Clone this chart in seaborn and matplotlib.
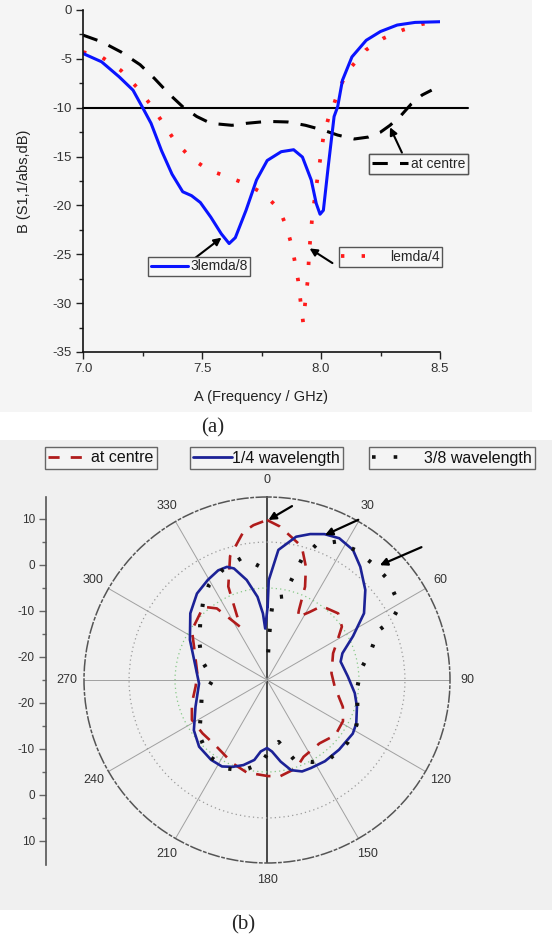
import numpy as np
import pandas as pd
import matplotlib
matplotlib.use("Agg")
import matplotlib.pyplot as plt
import seaborn as sns
from matplotlib.lines import Line2D
from matplotlib.patches import Rectangle
from matplotlib.ticker import MultipleLocator, FormatStrFormatter, FixedLocator

sns.set_style("white")
plt.rcParams["font.family"] = ["Liberation Sans", "DejaVu Sans"]

# ---------------- data: panel (a) return loss ----------------
freq_38 = [7.0, 7.078, 7.152, 7.21, 7.249, 7.286, 7.33, 7.374, 7.419, 7.456, 7.493, 7.537, 7.581,
           7.614, 7.64, 7.685, 7.729, 7.774, 7.833, 7.885, 7.922, 7.959, 7.98, 7.996, 8.01, 8.03,
           8.055, 8.07, 8.09, 8.13, 8.19, 8.25, 8.32, 8.395, 8.5]
s11_38 = [-4.45, -5.3, -6.84, -8.2, -9.92, -11.6, -14.4, -16.8, -18.6, -19.0, -19.7, -21.2, -22.9,
          -23.9, -23.3, -20.5, -17.4, -15.4, -14.5, -14.3, -15.05, -17.4, -19.8, -20.9, -20.5, -16.1,
          -10.9, -9.9, -7.2, -4.8, -3.1, -2.2, -1.54, -1.27, -1.2]
freq_l4 = [7.0, 7.078, 7.16, 7.226, 7.286, 7.337, 7.389, 7.456, 7.53, 7.611, 7.685, 7.759, 7.825,
           7.855, 7.877, 7.892, 7.904, 7.914, 7.925, 7.933, 7.944, 7.951, 7.963, 7.98, 7.996, 8.01,
           8.033, 8.055, 8.077, 8.114, 8.188, 8.262, 8.343, 8.425, 8.49]
s11_l4 = [-4.3, -4.8, -6.2, -7.9, -9.75, -11.6, -13.5, -15.2, -16.4, -17.1, -17.8, -18.8, -20.4,
          -22.2, -24.1, -26.0, -27.7, -29.8, -32.0, -30.1, -27.7, -24.6, -21.2, -18.1, -15.4, -13.0,
          -10.9, -9.6, -8.0, -6.2, -4.1, -2.9, -2.05, -1.44, -1.2]
freq_c = [7.0, 7.078, 7.16, 7.24, 7.3, 7.36, 7.419, 7.478, 7.537, 7.626, 7.685, 7.774, 7.86,
          7.935, 8.01, 8.07, 8.14, 8.2, 8.25, 8.29, 8.336, 8.38, 8.425, 8.465]
s11_c = [-2.57, -3.25, -4.3, -5.6, -7.0, -8.55, -9.9, -10.9, -11.6, -11.8, -11.6, -11.4, -11.46,
         -11.8, -12.3, -12.8, -13.2, -13.0, -12.5, -11.8, -10.8, -9.6, -8.7, -8.2]
threshold_db = -10
threshold_f = [7.0, 8.618]
xticks_a = [7.0, 7.5, 8.0, 8.5]
yticks_a = [0, -5, -10, -15, -20, -25, -30, -35]
names_a = ["3lemda/8", "lemda/4", "at centre"]

# ---------------- data: panel (b) radiation pattern ----------------
theta_q = [0.5, 1, 5, 11.5, 16.5, 21.5, 27, 33.5, 39.5, 47.5, 55.5, 63, 70.5, 76, 87.5, 98.5,
           106.5, 116, 122, 134, 144.5, 153.5, 159, 165, 170.5, 176, 180, 185, 189, 195.5, 201.5,
           207.5, 215, 225.5, 235.5, 249.5, 267, 280.5, 297.5, 311, 321, 329.5, 336, 340.5, 343.5,
           348.5, 353.5, 356.5, 358, 360.5]
r_q = [-9.0, -3.3, 3.4, 6.8, 8.1, 9.1, 9.6, 8.9, 6.9, 4.0, 0.6, -4.0, -7.6, -8.5, -7.4, -5.7,
       -4.6, -3.4, -3.0, -3.2, -3.3, -3.6, -3.7, -4.7, -7.0, -9.4, -10.2, -9.4, -7.4, -5.8, -4.7,
       -3.8, -3.8, -4.3, -5.7, -8.4, -10.2, -9.2, -6.1, -2.9, -0.8, 0.3, 1.1, 1.1, 0.3,
       -2.8, -6.8, -10.5, -13.8, -9.0]
theta_c = [0, 4.8, 14.6, 19, 22.2, 24.5, 26, 32.2, 36.5, 46.9, 54.5, 62.2, 68, 84, 95.6, 109.5,
           118.5, 128.8, 140.3, 154.5, 161.6, 172, 179.4, 192.3, 202.4, 218.7, 230.4, 242, 252.8,
           264.7, 275, 288, 303.6, 319, 325, 333.1, 334.5, 337.5, 343.4, 350.9, 355, 360]
r_c = [9.8, 8.5, 5.0, 1.0, -3.1, -8.2, -9.8, -7.5, -5.0, -3.8, -5.0, -7.9, -9.5, -10.9, -10.2, -7.5,
       -6.2, -5.9, -7.1, -6.5, -4.8, -3.9, -4.1, -4.4, -5.4, -6.9, -6.8, -6.5, -7.9,
       -9.4, -9.8, -8.6, -5.4, -3.9, -6.0, -12.0, -10.4, -3.0, 3.1, 7.6, 8.8, 9.8]
theta_38 = [2.5, 3, 3.5, 4.5, 11, 16, 20, 26.7, 34.4, 43, 50, 56.5, 62, 64.5, 66, 73.5, 83, 94.5,
            106.5, 116.6, 128, 141, 151, 161, 169.3, 177, 184, 195, 205, 218, 231, 241, 254, 271,
            286.5, 299.5, 310.5, 320, 328.5, 338, 348.8, 356.5, 359.8]
r_38 = [-19.0, -14.8, -11.0, -7.0, -6.5, 2.2, 6.3, 8.7, 9.2, 9.2, 9.2, 8.4, 7.0, 5.0, 1.6, -1.3,
        -4.3, -5.3, -4.5, -3.2, -2.8, -3.1, -4.6, -6.6, -11.3, -10.0, -6.8, -4.6, -3.8, -4.2, -6.0,
        -8.5, -10.2, -13.3, -10.2, -8.1, -5.9, -3.3, -0.8, 0.8, 2.2, -0.3, -3.0]
angle_ticks = [0, 30, 60, 90, 120, 150, 180, 210, 240, 270, 300, 330]
radial_ticks = [10, 0, -10, -20]
r_min, r_max = -25, 14.8
names_b = ["at centre", "1/4 wavelength", "3/8 wavelength"]

# ---------------- figure ----------------
W, H = 552, 942
fig = plt.figure(figsize=(W / 100, H / 100), dpi=100)
fig.patch.set_facecolor("white")


def box(x0, y0, x1, y1):
    return [x0 / W, 1 - y1 / H, (x1 - x0) / W, (y1 - y0) / H]


def fpt(px, py):
    return (px / W, 1 - py / H)


fig.add_artist(Rectangle((0, 1 - 412 / H), 532 / W, 412 / H, transform=fig.transFigure,
                         facecolor="#f5f5f5", edgecolor="none", zorder=-10))
fig.add_artist(Rectangle((0, 1 - 910 / H), 1, (910 - 440) / H, transform=fig.transFigure,
                         facecolor="#f0f0f0", edgecolor="none", zorder=-10))

# ---- panel (a)
ax = fig.add_axes(box(83, 10, 440, 352))
ax.set_facecolor("none")
dash_c = (0, (5, 4))
dot_l4 = (0, (0.9, 4.6))
sns.lineplot(x=freq_c, y=s11_c, ax=ax, color="black", lw=2.2, linestyle=dash_c,
             estimator=None, sort=False, legend=False)
sns.lineplot(x=freq_l4, y=s11_l4, ax=ax, color="#ff1a1a", lw=2.7, linestyle=dot_l4,
             estimator=None, sort=False, legend=False)
sns.lineplot(x=freq_38, y=s11_38, ax=ax, color="#0a14ff", lw=2.2,
             estimator=None, sort=False, legend=False)
ax.plot(threshold_f, [threshold_db] * 2, color="black", lw=1.5, clip_on=False, zorder=1)
ax.set_xlim(7.0, 8.5)
ax.set_ylim(-35, 0)
for s in ["top", "right"]:
    ax.spines[s].set_visible(False)
for s in ["left", "bottom"]:
    ax.spines[s].set_color("#111")
    ax.spines[s].set_linewidth(1.2)
ax.xaxis.set_major_locator(FixedLocator(xticks_a))
ax.yaxis.set_major_locator(FixedLocator(yticks_a))
ax.xaxis.set_major_formatter(FormatStrFormatter("%.1f"))
ax.yaxis.set_major_formatter(FormatStrFormatter("%d"))
ax.xaxis.set_minor_locator(MultipleLocator(0.25))
ax.yaxis.set_minor_locator(MultipleLocator(2.5))
ax.tick_params(which="major", direction="out", length=5, width=1, color="#222",
               labelsize=9.5, labelcolor="#333", bottom=True, left=True, pad=3)
ax.tick_params(which="minor", direction="out", length=3, width=1, color="#222",
               bottom=True, left=True)
ax.set_xlabel("A (Frequency / GHz)", fontsize=10.5, color="#222")
ax.set_ylabel("B (S1,1/abs,dB)", fontsize=10.5, color="#222")
ax.xaxis.set_label_coords(0.5, -0.112)
ax.yaxis.set_label_coords(-0.145, 0.5)

arrow_kw = dict(arrowstyle="-|>", color="black", lw=1.5, mutation_scale=11, shrinkA=0, shrinkB=0)
ax.annotate("", xy=(7.582, -23.3), xytext=(7.47, -25.4), arrowprops=arrow_kw)
ax.annotate("", xy=(7.952, -24.4), xytext=(8.048, -25.9), arrowprops=arrow_kw)
ax.annotate("", xy=(8.29, -12.0), xytext=(8.34, -14.6), arrowprops=arrow_kw)

leg_kw = dict(loc="center", frameon=True, fancybox=False, edgecolor="#555", facecolor="#f7f7f7",
              framealpha=1, fontsize=10, borderpad=0.2, borderaxespad=0)
h38 = Line2D([], [], color="#0a14ff", lw=2.2)
hl4 = Line2D([], [], color="#ff1a1a", lw=2.7, linestyle=dot_l4)
hc = Line2D([], [], color="black", lw=2.2, linestyle=dash_c)
l1 = ax.legend([h38], [names_a[0]], bbox_to_anchor=((199 - 83) / 357, (352 - 266.5) / 342),
               handlelength=2.7, handletextpad=0.15, **leg_kw)
ax.add_artist(l1)
l2 = ax.legend([hl4], [names_a[1]], bbox_to_anchor=((390.5 - 83) / 357, (352 - 257) / 342),
               handlelength=2.3, handletextpad=1.2, **leg_kw)
ax.add_artist(l2)
l3 = ax.legend([hc], [names_a[2]], bbox_to_anchor=((418.5 - 83) / 357, (352 - 164) / 342),
               handlelength=2.6, handletextpad=0.25, **leg_kw)
ax.add_artist(l3)

fig.text(*fpt(213, 428), "(a)", family=["Liberation Serif", "DejaVu Serif"], fontsize=15,
         ha="center", va="center")

# ---- panel (b)
pax = fig.add_axes(box(84, 497, 450, 863), projection="polar")
pax.set_facecolor("none")
pax.set_theta_zero_location("N")
pax.set_theta_direction(-1)
dash_b = (0, (5.5, 3.8))
dot_b = (0, (0.8, 4.3))
sns.lineplot(x=np.deg2rad(theta_c), y=r_c, ax=pax, color="#b01c1c", lw=1.9, linestyle=dash_b,
             estimator=None, sort=False, legend=False)
sns.lineplot(x=np.deg2rad(theta_q), y=r_q, ax=pax, color="#1c2296", lw=1.9,
             estimator=None, sort=False, legend=False)
sns.lineplot(x=np.deg2rad(theta_38), y=r_38, ax=pax, color="#111", lw=2.9, linestyle=dot_b,
             estimator=None, sort=False, legend=False)
pax.set_xlabel("")
pax.set_ylabel("")
pax.set_ylim(r_min, r_max)
pax.set_xticks(np.deg2rad(angle_ticks))
pax.set_xticklabels([str(a) for a in angle_ticks])
pax.set_yticks([-5, 5])
pax.set_yticklabels([])
pax.grid(True)
for i, g in enumerate(pax.xaxis.get_gridlines()):
    if angle_ticks[i] in (0, 180):
        g.set_color("#1a1a1a")
        g.set_linewidth(1.1)
    else:
        g.set_color("#a0a0a0")
        g.set_linewidth(0.7)
    g.set_linestyle("-")
ygl = pax.yaxis.get_gridlines()
ygl[0].set_color("#88c888")
ygl[1].set_color("#9a9a9a")
for g in ygl:
    g.set_linestyle((0, (1, 2.5)))
    g.set_linewidth(0.9)
pax.spines["polar"].set_linestyle((0, (7, 2, 1.5, 2)))
pax.spines["polar"].set_color("#555")
pax.spines["polar"].set_linewidth(1.1)
pax.tick_params(axis="x", pad=2, labelsize=9, labelcolor="#333")

parrow = dict(arrowstyle="-|>", color="black", lw=1.6, mutation_scale=11, shrinkA=0, shrinkB=0)
pax.annotate("", xy=(np.deg2rad(0.5), 9.8), xytext=(17, 10), textcoords="offset points",
             arrowprops=parrow)
pax.annotate("", xy=(np.deg2rad(21.8), 8.95), xytext=(24, 11), textcoords="offset points",
             arrowprops=parrow)
pax.annotate("", xy=(np.deg2rad(44.5), 10.0), xytext=(30, 13), textcoords="offset points",
             arrowprops=parrow)

# radial scale on the left
lax = fig.add_axes(box(46, 497, 47, 865))
lax.set_facecolor("none")
lax.set_ylim(-40.22, 39.78)
for s in ["top", "right", "bottom"]:
    lax.spines[s].set_visible(False)
lax.spines["left"].set_color("#555")
lax.spines["left"].set_linewidth(1.2)
lax.set_xticks([])
pos = [r - r_min for r in radial_ticks] + [-(r - r_min) for r in radial_ticks[::-1]]
labs = [str(r) for r in radial_ticks] + [str(r) for r in radial_ticks[::-1]]
lax.yaxis.set_major_locator(FixedLocator(pos))
lax.set_yticklabels(labs)
lax.yaxis.set_minor_locator(FixedLocator([30, 20, 10, 0, -10, -20, -30]))
lax.tick_params(axis="y", which="major", direction="out", length=5, width=1, color="#666",
                labelsize=8.5, labelcolor="#333", left=True, pad=3)
lax.tick_params(axis="y", which="minor", direction="out", length=3, width=1, color="#666",
                left=True)

# legends for (b)
bleg = dict(loc="center", frameon=True, fancybox=False, edgecolor="#666", facecolor="#f4f4f4",
            framealpha=1, fontsize=11.5, borderpad=0.2, borderaxespad=0, labelcolor="#111")
hbc = Line2D([], [], color="#b01c1c", lw=2.0, linestyle=(0, (4, 4)))
hbq = Line2D([], [], color="#1c2296", lw=2.0)
hb38 = Line2D([], [], color="#111", lw=2.6, linestyle=(0, (1, 5)))
fig.legend([hbc], [names_b[0]], bbox_to_anchor=fpt(101, 458), handlelength=2.6,
           handletextpad=0.1, **bleg)
fig.legend([hbq], [names_b[1]], bbox_to_anchor=fpt(266.5, 458), handlelength=2.4,
           handletextpad=0.0, **bleg)
fig.legend([hb38], [names_b[2]], bbox_to_anchor=fpt(452, 458), handlelength=2.2,
           handletextpad=1.1, **bleg)

fig.text(*fpt(243, 925), "(b)", family=["Liberation Serif", "DejaVu Serif"], fontsize=15,
         ha="center", va="center")

fig.savefig("out.png", dpi=100, facecolor="white")
